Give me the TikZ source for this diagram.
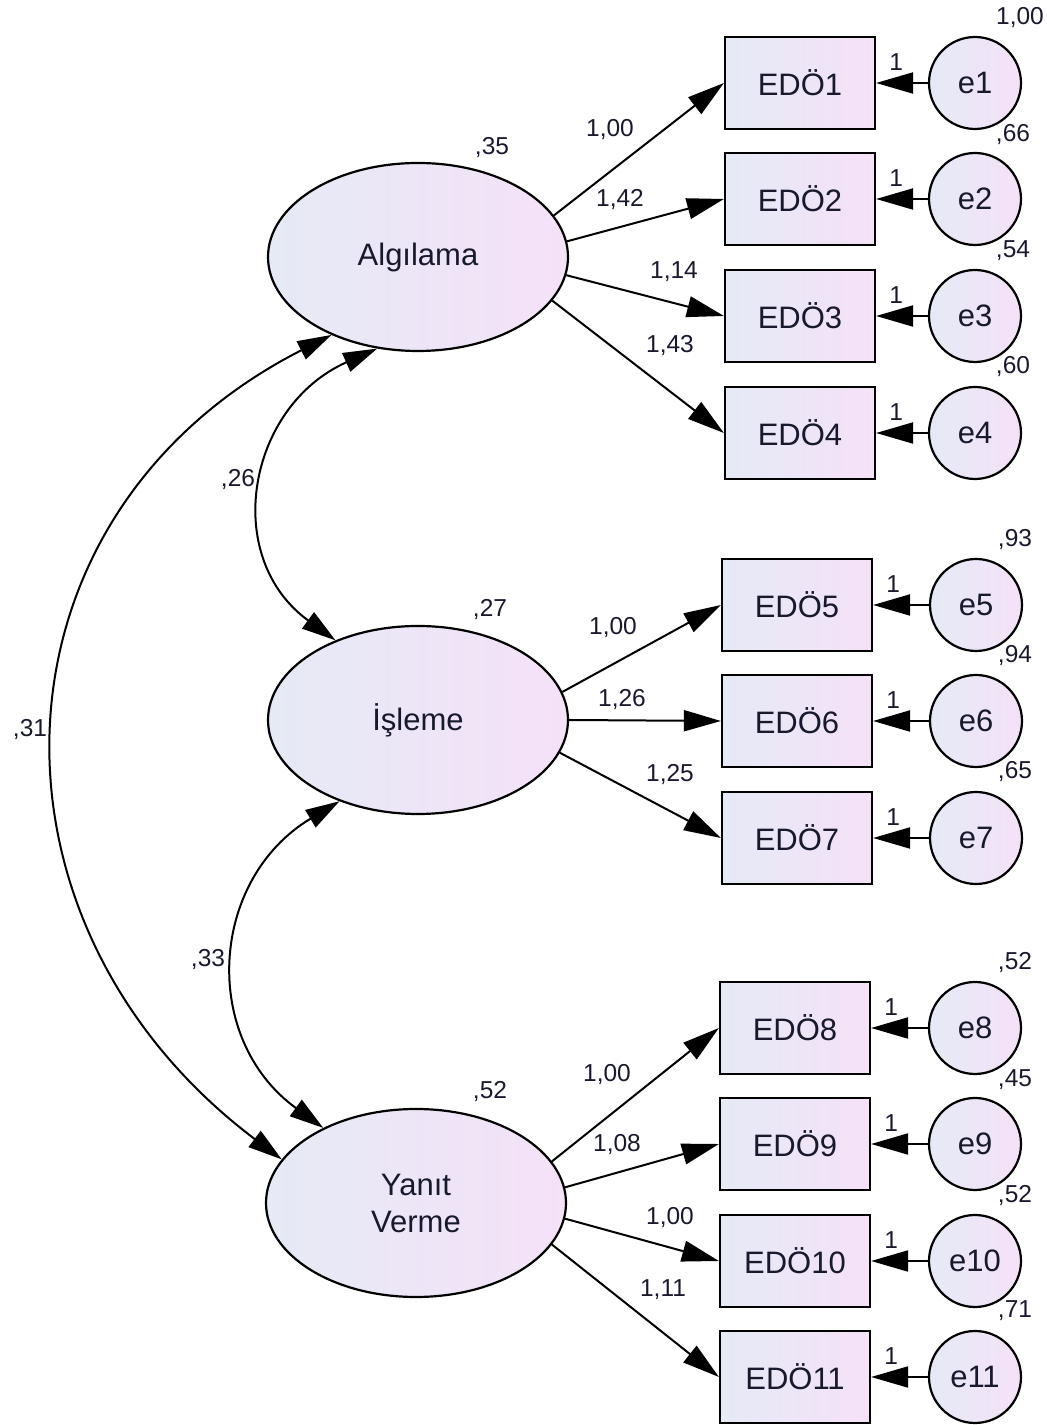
\documentclass[tikz,border=0pt]{standalone}
\usepackage{fontspec}
\setmainfont{Liberation Sans}
\usetikzlibrary{arrows.meta,shapes.geometric}
\definecolor{fillL}{RGB}{229,234,245}
\definecolor{fillR}{RGB}{245,225,248}
\definecolor{txt}{RGB}{25,25,45}
\begin{document}
\begin{tikzpicture}[x=1pt,y=1pt,
  latent/.style={ellipse, draw, line width=2.2pt, minimum width=300pt, minimum height=188pt, inner sep=0pt,
    left color=fillL, right color=fillR, text=txt, font=\fontsize{31}{37}\selectfont, align=center},
  obs/.style={rectangle, draw, line width=2.2pt, minimum width=150pt, minimum height=92pt, inner sep=0pt,
    left color=fillL, right color=fillR, text=txt, font=\fontsize{31}{34}\selectfont},
  err/.style={circle, draw, line width=2.2pt, minimum size=92pt, inner sep=0pt,
    left color=fillL, right color=fillR, text=txt, font=\fontsize{31}{34}\selectfont},
  lbl/.style={text=txt, font=\fontsize{24.5}{26}\selectfont, inner sep=0pt},
  load/.style={line width=2pt, -{Triangle[length=37pt,width=21pt]}},
  errarr/.style={line width=2pt, -{Triangle[length=37pt,width=21pt]}},
  cov/.style={line width=2pt, {Triangle[length=34pt,width=20pt]}-{Triangle[length=34pt,width=20pt]}}
]
\useasboundingbox (0,0) rectangle (1047,1425);

% latent variables
\node[latent] (alg) at (418,1168) {Algılama};
\node[latent] (isl) at (418,705) {İşleme};
\node[latent] (yan) at (416,222) {Yanıt\\Verme};

% observed variables
\node[obs] (o1) at (800,1342) {EDÖ1};
\node[obs] (o2) at (800,1226) {EDÖ2};
\node[obs] (o3) at (800,1109) {EDÖ3};
\node[obs] (o4) at (800,992) {EDÖ4};
\node[obs] (o5) at (797,820) {EDÖ5};
\node[obs] (o6) at (797,704) {EDÖ6};
\node[obs] (o7) at (797,587) {EDÖ7};
\node[obs] (o8) at (795,397) {EDÖ8};
\node[obs] (o9) at (795,281) {EDÖ9};
\node[obs] (o10) at (795,164) {EDÖ10};
\node[obs] (o11) at (795,48) {EDÖ11};

% error terms
\node[err] (e1) at (975,1342) {e1};
\node[err] (e2) at (975,1226) {e2};
\node[err] (e3) at (975,1109) {e3};
\node[err] (e4) at (975,992) {e4};
\node[err] (e5) at (976,820) {e5};
\node[err] (e6) at (976,704) {e6};
\node[err] (e7) at (976,587) {e7};
\node[err] (e8) at (975,397) {e8};
\node[err] (e9) at (975,281) {e9};
\node[err] (e10) at (975,164) {e10};
\node[err] (e11) at (975,48) {e11};

% loadings
\draw[load] (alg.17) -- (o1.west);
\draw[load] (alg.6) -- (o2.west);
\draw[load] (alg.-7) -- (o3.west);
\draw[load] (alg.-18) -- (o4.west);
\draw[load] (isl.11) -- (o5.west);
\draw[load] (isl.0) -- (o6.west);
\draw[load] (isl.-13) -- (o7.west);
\draw[load] (yan.17.5) -- (o8.west);
\draw[load] (yan.6) -- (o9.west);
\draw[load] (yan.-6) -- (o10.west);
\draw[load] (yan.-17.5) -- (o11.west);

% error arrows
\foreach \i in {1,...,11} {
  \draw[errarr] (e\i) -- (o\i);
  \node[lbl] (one\i) at ([shift={(20,21)}]o\i.east) {1};
}

% covariances
\draw[cov] (alg.246) .. controls +(204:142) and +(144:142) .. (isl.136);
\draw[cov] (alg.222) .. controls +(207:394) and +(143:394) .. (yan.162);
\draw[cov] (isl.226) .. controls +(211:152) and +(144:152) .. (yan.141);

% covariance labels
\node[lbl] (c26) at (238,945) {,26};
\node[lbl] (c31) at (30,695) {,31};
\node[lbl] (c33) at (208,465) {,33};

% latent variances
\node[lbl] (v1) at (492,1277) {,35};
\node[lbl] (v2) at (490,815) {,27};
\node[lbl] (v3) at (490,333) {,52};

% loading labels
\node[lbl] (l1) at (610,1295) {1,00};
\node[lbl] (l2) at (620,1225) {1,42};
\node[lbl] (l3) at (674,1153) {1,14};
\node[lbl] (l4) at (670,1079) {1,43};
\node[lbl] (l5) at (613,797) {1,00};
\node[lbl] (l6) at (622,725) {1,26};
\node[lbl] (l7) at (670,650) {1,25};
\node[lbl] (l8) at (607,350) {1,00};
\node[lbl] (l9) at (617,280) {1,08};
\node[lbl] (l10) at (670,207) {1,00};
\node[lbl] (l11) at (663,135) {1,11};

% error variances
\node[lbl] (ev1) at (1020,1407) {1,00};
\node[lbl] (ev2) at (1013,1290) {,66};
\node[lbl] (ev3) at (1013,1174) {,54};
\node[lbl] (ev4) at (1013,1058) {,60};
\node[lbl] (ev5) at (1015,885) {,93};
\node[lbl] (ev6) at (1015,769) {,94};
\node[lbl] (ev7) at (1015,653) {,65};
\node[lbl] (ev8) at (1015,462) {,52};
\node[lbl] (ev9) at (1015,345) {,45};
\node[lbl] (ev10) at (1015,229) {,52};
\node[lbl] (ev11) at (1015,114) {,71};
\end{tikzpicture}
\end{document}
